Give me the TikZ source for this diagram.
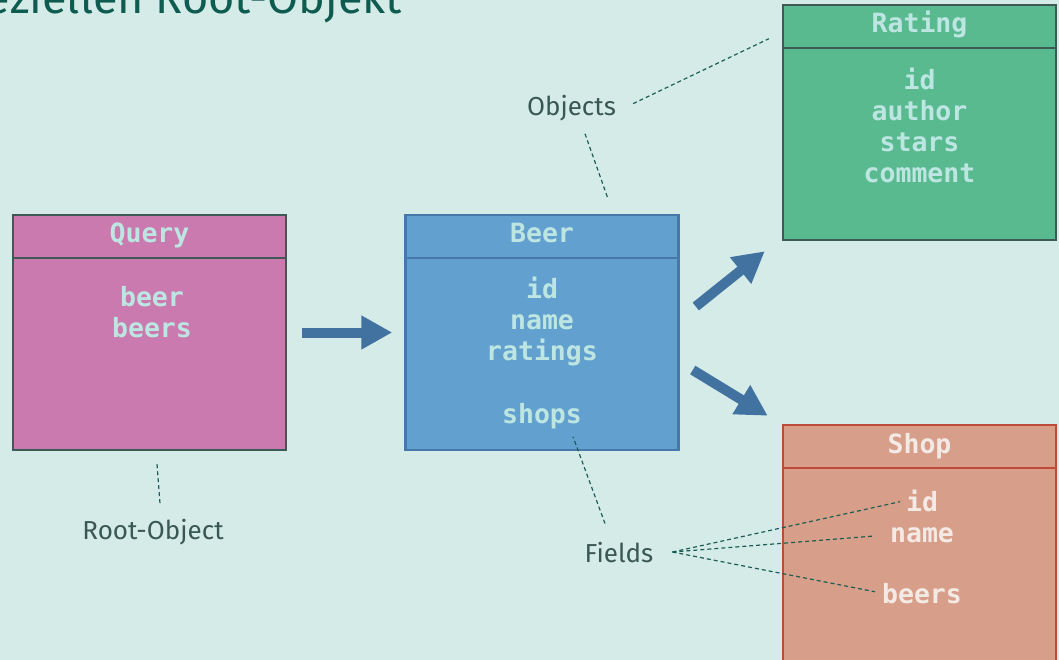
\documentclass[tikz,border=0pt]{standalone}
\usepackage{fontspec}
\setmainfont{Fira Sans}
\setmonofont{DejaVu Sans Mono}
\usepackage{tikz}
\usetikzlibrary{positioning}
\usetikzlibrary{arrows.meta}

\definecolor{bg}{HTML}{D5EBE8}
\definecolor{queryfill}{HTML}{CA7AAE}
\definecolor{beerfill}{HTML}{62A0CF}
\definecolor{ratingfill}{HTML}{5ABA8F}
\definecolor{shopfill}{HTML}{D79E89}
\definecolor{darkline}{HTML}{3D5A56}
\definecolor{beerline}{HTML}{4679AA}
\definecolor{shopline}{HTML}{BE4B39}
\definecolor{lighttext}{HTML}{BDE6E2}
\definecolor{shoptext}{HTML}{F4EAE5}
\definecolor{arrowblue}{HTML}{4272A0}
\definecolor{notecol}{HTML}{1C5E56}
\definecolor{labelcol}{HTML}{3A5753}
\definecolor{titlecol}{HTML}{0E5B50}

\tikzset{
  box/.style={draw, line width=2.5pt, minimum width=273pt,
    minimum height=235pt, inner sep=0pt},
  boxhead/.style={draw, line width=2.5pt, anchor=north, minimum width=273pt,
    minimum height=43pt, inner sep=0pt, text height=19pt, text depth=6pt,
    font=\ttfamily\bfseries\fontsize{26.5}{31}\selectfont},
  fieldlist/.style={align=center, inner sep=0pt,
    font=\ttfamily\bfseries\fontsize{26.5}{31}\selectfont},
  note/.style={anchor=base, inner sep=0pt, text=labelcol,
    font=\fontsize{26}{30}\selectfont},
  hint/.style={draw=notecol, line width=1.2pt, dash pattern=on 4pt off 3pt},
  fat/.style={draw=arrowblue, line width=10pt,
    -{Triangle[width=32pt,length=31pt]}},
}

\begin{document}
\begin{tikzpicture}[x=1pt, y=-1pt]
  % canvas
  \fill[bg] (0,0) rectangle (1059,660);
  \useasboundingbox (0,0) rectangle (1059,660);
  \clip (0,0) rectangle (1059,660);

  % title, cut by the page edge
  \node[anchor=base east, inner sep=0pt, text=titlecol,
    font=\fontsize{45}{50}\selectfont] (title) at (402,14) {eziellen Root-Objekt};

  % Query
  \node[box, fill=queryfill, draw=darkline] (qry) at (149.5,332.5) {};
  \node[boxhead, fill=queryfill, draw=darkline, text=lighttext] (qryhead) at (qry.north) {Query};
  \node[fieldlist, anchor=north, text=lighttext] (qryfields) at (152,286) {beer\\beers};

  % Beer
  \node[box, fill=beerfill, draw=beerline] (beer) at (542,332.5) {};
  \node[boxhead, fill=beerfill, draw=beerline, text=lighttext] (beerhead) at (beer.north) {Beer};
  \node[fieldlist, anchor=north, text=lighttext] (beerfields) at (542,277) {id\\name\\ratings};
  \node[fieldlist, anchor=base, text=lighttext] (bshops) at (542,423) {shops};

  % Rating
  \node[box, fill=ratingfill, draw=darkline] (rating) at (919.5,122.5) {};
  \node[boxhead, fill=ratingfill, draw=darkline, text=lighttext] (ratinghead) at (rating.north) {Rating};
  \node[fieldlist, anchor=north, text=lighttext] (ratingfields) at (919.5,68) {id\\author\\stars\\comment};

  % Shop
  \node[box, minimum height=260pt, fill=shopfill, draw=shopline] (shop) at (919.5,555) {};
  \node[boxhead, fill=shopfill, draw=shopline, text=shoptext] (shophead) at (shop.north) {Shop};
  \node[fieldlist, anchor=base, text=shoptext] (sid) at (922,511) {id};
  \node[fieldlist, anchor=base, text=shoptext] (sname) at (922,542) {name};
  \node[fieldlist, anchor=base, text=shoptext] (sbeers) at (922,603) {beers};

  % arrows
  \draw[fat] ([xshift=15pt]qry.east) -- ([xshift=-12pt]beer.west);
  \draw[fat] ([shift={(16,-26)}]beer.east) -- ([shift={(-17,10)}]rating.south west);
  \draw[fat] ([shift={(13,37.5)}]beer.east) -- ([shift={(-14,-8)}]shop.north west);

  % labels
  \node[note] (root) at (153,539) {Root-Object};
  \node[note] (obj) at (571.5,116) {Objects};
  \node[note] (flds) at (619,562) {Fields};
  \coordinate (fork) at ([xshift=19pt]flds.east);

  % dashed hints
  \draw[hint] ([shift={(7.5,13)}]qry.south) -- ([shift={(7,-15)}]root.north);
  \draw[hint] ([shift={(17,-5)}]obj.east) -- ([shift={(-13,35)}]rating.north west);
  \draw[hint] ([shift={(13.5,12)}]obj.south) -- ([shift={(66,-15)}]beer.north);
  \draw[hint] ([shift={(-14,-18)}]flds.north) -- ([shift={(31,8)}]bshops.south);
  \draw[hint, shorten >=6pt] (fork) -- (sid.west);
  \draw[hint, shorten >=16pt] (fork) -- (sname.west);
  \draw[hint, shorten >=7pt] (fork) -- (sbeers.west);
\end{tikzpicture}
\end{document}
